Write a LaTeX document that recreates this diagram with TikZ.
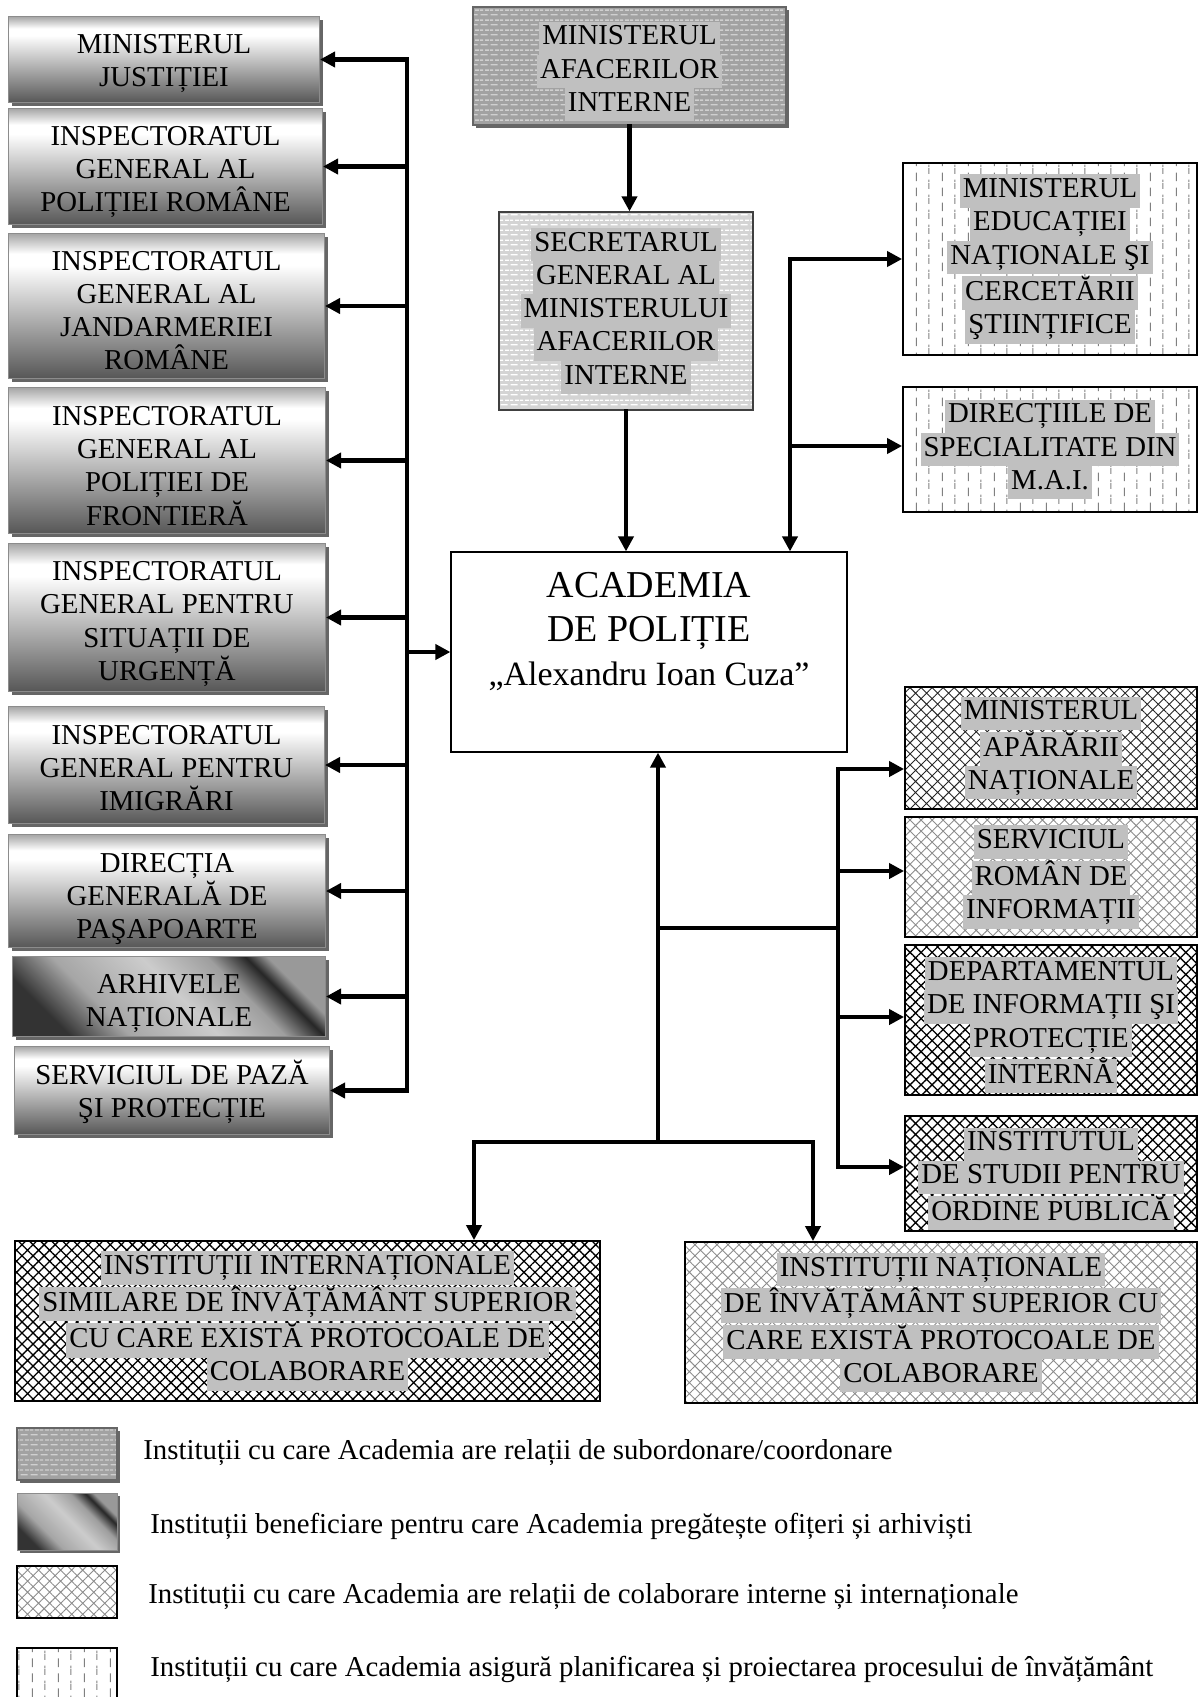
\documentclass[tikz,border=0pt]{standalone}
\usepackage{fontspec}
\setmainfont{Liberation Serif}
\usetikzlibrary{arrows.meta,patterns,patterns.meta,shadows}
\definecolor{hlgray}{HTML}{C0C0C0}
\definecolor{maibg}{HTML}{A2A2A2}
\definecolor{maidash}{HTML}{D0D0D0}
\definecolor{sgbg}{HTML}{D4D4D4}
\newcommand\hl[1]{{\setlength{\fboxsep}{0pt}\colorbox{hlgray}{\kern1.5pt\strut #1\kern1.5pt}}}
\newcommand\tpad[1][15pt]{\rule{0pt}{#1}}
\pgfdeclareverticalshading{lgrad}{100bp}{color(0bp)=(black!66); color(25bp)=(black!66); color(64bp)=(white); color(68bp)=(white); color(75bp)=(black!35); color(100bp)=(black!35)}
\pgfdeclarehorizontalshading{agrad}{100bp}{color(0bp)=(black!80); color(25bp)=(black!80); color(36bp)=(black!35); color(52bp)=(black!20); color(64bp)=(black!38); color(71bp)=(black!85); color(75bp)=(black!40); color(100bp)=(black!40)}
\pgfdeclarepatternformonly{hdashrows}{\pgfpointorigin}{\pgfpoint{5pt}{5pt}}{\pgfpoint{5pt}{5pt}}{%
  \pgfsetlinewidth{0.7pt}%
  \pgfpathmoveto{\pgfpoint{0.3pt}{1.25pt}}\pgfpathlineto{\pgfpoint{4.2pt}{1.25pt}}%
  \pgfpathmoveto{\pgfpoint{2.8pt}{3.75pt}}\pgfpathlineto{\pgfpoint{5pt}{3.75pt}}%
  \pgfpathmoveto{\pgfpoint{0pt}{3.75pt}}\pgfpathlineto{\pgfpoint{1.7pt}{3.75pt}}%
  \pgfusepath{stroke}}
\pgfdeclarepatternformonly{vdashcols}{\pgfpointorigin}{\pgfpoint{13pt}{7.5pt}}{\pgfpoint{13pt}{7.5pt}}{%
  \pgfsetlinewidth{0.5pt}%
  \pgfpathmoveto{\pgfpoint{3.25pt}{0.5pt}}\pgfpathlineto{\pgfpoint{3.25pt}{5pt}}%
  \pgfpathmoveto{\pgfpoint{9.75pt}{4.25pt}}\pgfpathlineto{\pgfpoint{9.75pt}{7.5pt}}%
  \pgfpathmoveto{\pgfpoint{9.75pt}{0pt}}\pgfpathlineto{\pgfpoint{9.75pt}{1.25pt}}%
  \pgfusepath{stroke}}
\begin{document}
\begin{tikzpicture}[x=0.5pt,y=-0.5pt,
  box/.style={inner sep=0pt, align=center, font=\fontsize{14.4}{16.6}\selectfont},
  shad/.style={drop shadow={shadow xshift=1.6pt,shadow yshift=-1.6pt,fill=black!60,opacity=1}},
  gbox/.style={box, shad, shading=lgrad, draw=black!45, line width=0.5pt},
  abox/.style={box, shad, shading=agrad, shading angle=45, draw=black!45, line width=0.5pt},
  subbox/.style={box, shad, preaction={fill=maibg}, pattern=hdashrows, pattern color=maidash, draw=black!60, line width=0.6pt},
  sgbox/.style={box, preaction={fill=sgbg}, pattern=hdashrows, pattern color=white, draw=black!75, line width=0.6pt},
  vdbox/.style={box, pattern=vdashcols, pattern color=black!50, draw=black, line width=0.9pt},
  hmid/.style={box, pattern={Hatch[angle=45,distance=3.9pt,line width=0.45pt]}, pattern color=black!85, draw=black, line width=0.9pt},
  hlight/.style={box, pattern={Hatch[angle=45,distance=3.9pt,line width=0.45pt]}, pattern color=black!45, draw=black, line width=0.9pt},
  hdark/.style={box, pattern={Hatch[angle=45,distance=3.9pt,line width=0.65pt]}, pattern color=black, draw=black, line width=0.9pt},
  acbox/.style={inner sep=0pt, align=center, draw=black, line width=0.6pt, font=\fontsize{19}{22}\selectfont},
  legtext/.style={anchor=west, inner sep=0pt, font=\fontsize{14.4}{16.6}\selectfont},
  ln/.style={line width=2.1pt, line cap=rect},
  arr/.style={ln, -{Triangle[length=7.5pt,width=7.5pt]}}
]
\useasboundingbox (0,0) rectangle (1199,1697);

% ---------- left column ----------
\node[gbox, minimum width=155.5pt, minimum height=43pt] (mj) at (164,59.5) {\tpad[13.3pt]MINISTERUL\\JUSTIȚIEI};
\node[gbox, minimum width=157pt, minimum height=58pt] (igpr) at (165.5,166.5) {\tpad[14.9pt]INSPECTORATUL\\GENERAL AL\\POLIȚIEI ROMÂNE};
\node[gbox, minimum width=158pt, minimum height=72.5pt] (igjr) at (166.5,306) {\tpad[14.3pt]INSPECTORATUL\\GENERAL AL\\JANDARMERIEI\\ROMÂNE};
\node[gbox, minimum width=158.5pt, minimum height=73pt] (igpf) at (167,460.5) {\tpad[14.9pt]INSPECTORATUL\\GENERAL AL\\POLIȚIEI DE\\FRONTIERĂ};
\node[gbox, minimum width=158.5pt, minimum height=74pt] (igsu) at (167,617.5) {\tpad[16pt]INSPECTORATUL\\GENERAL PENTRU\\SITUAȚII DE\\URGENȚĂ};
\node[gbox, minimum width=158pt, minimum height=58.5pt] (igi) at (166.5,765) {\tpad[12.8pt]INSPECTORATUL\\GENERAL PENTRU\\IMIGRĂRI};
\node[gbox, minimum width=158.5pt, minimum height=56.5pt] (dgp) at (167,891) {\tpad[17.5pt]DIRECȚIA\\GENERALĂ DE\\PAŞAPOARTE};
\node[abox, minimum width=156.5pt, minimum height=40pt] (arh) at (169,996.5) {\tpad[16.5pt]ARHIVELE\\NAȚIONALE};
\node[gbox, minimum width=157.5pt, minimum height=44pt] (spp) at (172,1090.5) {\tpad[13.6pt]SERVICIUL DE PAZĂ\\ŞI PROTECȚIE};

% ---------- centre ----------
\node[subbox, minimum width=156.5pt, minimum height=59pt] (mai) at (629.5,66) {\tpad[17pt]\hl{MINISTERUL}\\\hl{AFACERILOR}\\\hl{INTERNE}};
\node[sgbox, minimum width=127pt, minimum height=99pt] (sg) at (626,311) {\hl{SECRETARUL}\\\hl{GENERAL AL}\\\hl{MINISTERULUI}\\\hl{AFACERILOR}\\\hl{INTERNE}};
\node[acbox, minimum width=198pt, minimum height=100pt] (acad) at (649,652) {ACADEMIA\\DE POLIȚIE\\{\fontsize{17}{19}\selectfont „Alexandru Ioan Cuza”}\\[1.5pt]\mbox{}};

% ---------- right top ----------
\node[vdbox, minimum width=147pt, minimum height=96pt] (mencs) at (1050,259) {\hl{MINISTERUL}\\\hl{EDUCAȚIEI}\\\hl{NAȚIONALE ŞI}\\\hl{CERCETĂRII}\\\hl{ŞTIINȚIFICE}};
\node[vdbox, minimum width=147pt, minimum height=62.5pt] (dir) at (1050,449.5) {\hl{DIRECȚIILE DE}\\\hl{SPECIALITATE DIN}\\\hl{M.A.I.}};

% ---------- right bottom ----------
\node[hmid, minimum width=146pt, minimum height=61pt] (mapn) at (1051,748) {\hl{MINISTERUL}\\\hl{APĂRĂRII}\\\hl{NAȚIONALE}};
\node[hlight, minimum width=146pt, minimum height=60pt] (sri) at (1051,877) {\hl{SERVICIUL}\\\hl{ROMÂN DE}\\\hl{INFORMAȚII}};
\node[hdark, minimum width=146pt, minimum height=75pt] (dipi) at (1051,1020) {\tpad[17pt]\hl{DEPARTAMENTUL}\\\hl{DE INFORMAȚII ŞI}\\\hl{PROTECȚIE}\\\hl{INTERNĂ}};
\node[hdark, minimum width=146pt, minimum height=57.5pt] (isop) at (1051,1173.5) {\tpad[17pt]\hl{INSTITUTUL}\\\hl{DE STUDII PENTRU}\\\hl{ORDINE PUBLICĂ}};

% ---------- bottom ----------
\node[hdark, minimum width=292.5pt, minimum height=80pt] (ibl) at (307.5,1321) {\hl{INSTITUȚII INTERNAȚIONALE}\\\hl{SIMILARE DE ÎNVĂȚĂMÂNT SUPERIOR}\\\hl{CU CARE EXISTĂ PROTOCOALE DE}\\\hl{COLABORARE}};
\node[hlight, minimum width=256pt, minimum height=80.5pt] (ibr) at (941,1322.5) {\hl{INSTITUȚII NAȚIONALE}\\\hl{DE ÎNVĂȚĂMÂNT SUPERIOR CU}\\\hl{CARE EXISTĂ PROTOCOALE DE}\\\hl{COLABORARE}};

% ---------- legend ----------
\node[subbox, minimum width=50pt, minimum height=26pt] (lg1) at (67,1454) {};
\node[abox, minimum width=50pt, minimum height=28.5pt] (lg2) at (67,1521.5) {};
\node[hlight, minimum width=50pt, minimum height=26pt] (lg3) at (67,1592) {};
\node[vdbox, minimum width=50pt, minimum height=27pt] (lg4) at (67,1675) {};
\node[legtext] (lt1) at (143,1453) {Instituții cu care Academia are relații de subordonare/coordonare};
\node[legtext] (lt2) at (150,1526) {Instituții beneficiare pentru care Academia pregătește ofițeri și arhiviști};
\node[legtext] (lt3) at (148,1597) {Instituții cu care Academia are relații de colaborare interne și internaționale};
\node[legtext] (lt4) at (150,1669) {Instituții cu care Academia asigură planificarea și proiectarea procesului de învățământ};

% ---------- connectors ----------
\coordinate (lb) at (407,0);
\draw[ln] (lb |- mj) -- (lb |- spp);
\foreach \n in {mj,igpr,igjr,igpf,igsu,igi,dgp,arh,spp}
  \draw[arr] (lb |- \n) -- (\n);
\draw[arr] (lb |- acad) -- (acad);

\draw[arr] (mai.south) -- (mai.south |- sg.north);
\draw[arr] (sg.south) -- (sg.south |- acad.north);

\coordinate (rt) at (790,259);
\draw[arr] (rt) -- (rt |- acad.north);
\draw[arr] (rt) -- (rt -| mencs.west);
\draw[arr] (rt |- 0,446) -- (dir.west |- 0,446);

\coordinate (cb) at (658,1142);
\coordinate (cj) at (658,928);
\coordinate (rb1) at (838,769);
\coordinate (rb2) at (838,871);
\coordinate (rb3) at (838,1017);
\coordinate (rb4) at (838,1167);
\draw[arr] (cb) -- (cb |- acad.south);
\draw[ln] (cj) -- (cj -| rb1);
\draw[ln] (rb1) -- (rb4);
\draw[arr] (rb1) -- (rb1 -| mapn.west);
\draw[arr] (rb2) -- (rb2 -| sri.west);
\draw[arr] (rb3) -- (rb3 -| dipi.west);
\draw[arr] (rb4) -- (rb4 -| isop.west);

\coordinate (bl) at (474,1142);
\coordinate (br) at (813,1142);
\draw[ln] (bl) -- (br);
\draw[arr] (bl) -- (bl |- ibl.north);
\draw[arr] (br) -- (br |- ibr.north);
\end{tikzpicture}
\end{document}
